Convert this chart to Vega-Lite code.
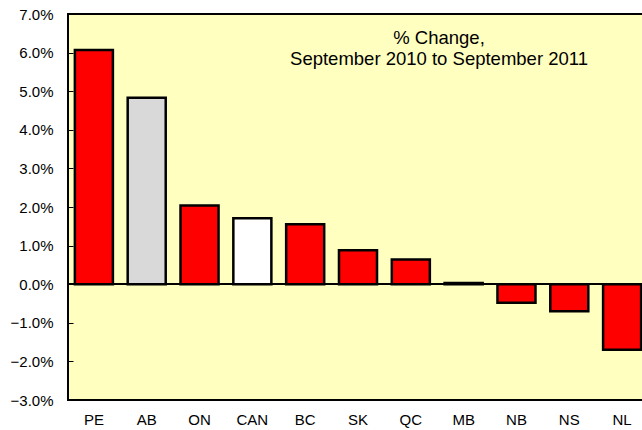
{
  "$schema": "https://vega.github.io/schema/vega-lite/v6.json",
  "autosize": "none",
  "width": 580,
  "height": 386,
  "padding": {"left": 68, "top": 14, "right": 0, "bottom": 30},
  "background": "white",
  "title": {
    "text": ["% Change,", "September 2010 to September 2011"],
    "font": "Liberation Sans",
    "fontSize": 18.5,
    "fontWeight": "normal",
    "color": "black",
    "anchor": "middle",
    "frame": "group",
    "dx": 81,
    "offset": -61,
    "lineHeight": 21
  },
  "config": {
    "view": {"fill": "#FFFFC0", "stroke": "black", "strokeWidth": 2},
    "font": "Liberation Sans",
    "axisY": {
      "labelOverlap": false,
      "labelBound": false,
      "grid": false,
      "domain": false,
      "ticks": true,
      "tickSize": -5,
      "tickWidth": 1,
      "tickColor": "black",
      "zindex": 1,
      "labelFont": "Liberation Sans",
      "labelFontSize": 15,
      "labelColor": "black",
      "labelPadding": 20
    }
  },
  "data": {
    "values": [
      {"region": "PE", "change": 6.07, "group": "prov"},
      {"region": "AB", "change": 4.83, "group": "ab"},
      {"region": "ON", "change": 2.04, "group": "prov"},
      {"region": "CAN", "change": 1.71, "group": "can"},
      {"region": "BC", "change": 1.55, "group": "prov"},
      {"region": "SK", "change": 0.88, "group": "prov"},
      {"region": "QC", "change": 0.64, "group": "prov"},
      {"region": "MB", "change": 0.03, "group": "prov"},
      {"region": "NB", "change": -0.48, "group": "prov"},
      {"region": "NS", "change": -0.7, "group": "prov"},
      {"region": "NL", "change": -1.7, "group": "prov"}
    ]
  },
  "encoding": {
    "y": {
      "field": "change",
      "type": "quantitative",
      "scale": {"domain": [-3, 7], "nice": false},
      "axis": {
        "title": null,
        "values": [-3, -2, -1, 0, 1, 2, 3, 4, 5, 6, 7],
        "labelExpr": "format(datum.value, '.1f') + '%'",
        "labelOverlap": false,
        "tickSize": -5
      }
    }
  },
  "layer": [
    {
      "mark": {"type": "bar", "stroke": "black", "strokeWidth": 2.5},
      "encoding": {
        "x": {
          "field": "region",
          "type": "nominal",
          "sort": null,
          "scale": {"paddingInner": 0.28, "paddingOuter": 0.13},
          "axis": {
            "title": null,
            "labelAngle": 0,
            "ticks": false,
            "domain": false,
            "labelFont": "Liberation Sans",
            "labelFontSize": 15,
            "labelColor": "black",
            "labelPadding": 12
          }
        },
        "color": {
          "field": "group",
          "type": "nominal",
          "scale": {"domain": ["prov", "ab", "can"], "range": ["#FF0000", "#D9D9D9", "#FFFFFF"]},
          "legend": null
        }
      }
    },
    {
      "mark": {"type": "rule", "color": "black", "strokeWidth": 1},
      "encoding": {"y": {"datum": 0}}
    }
  ]
}
